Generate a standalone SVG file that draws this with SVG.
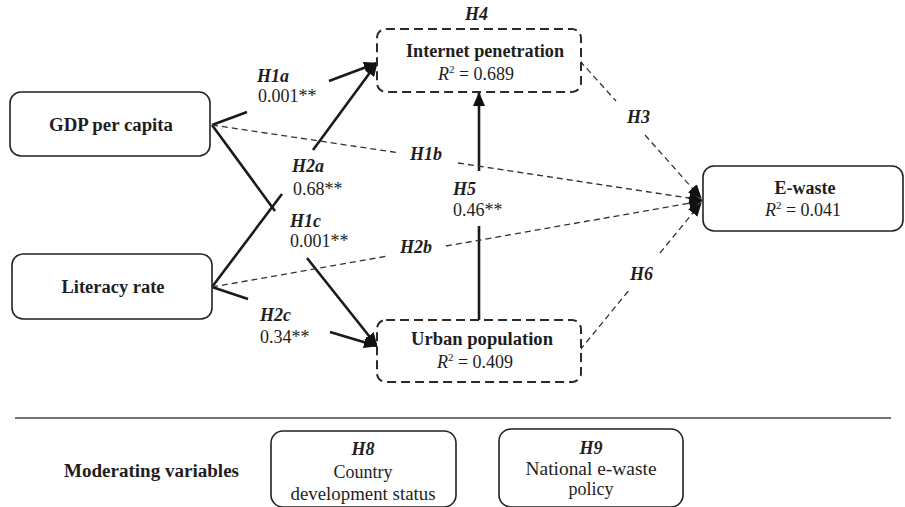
<svg xmlns="http://www.w3.org/2000/svg" width="905" height="507" viewBox="0 0 905 507">
<style>
text{font-family:"Liberation Serif","Times New Roman","Nimbus Roman","DejaVu Serif",serif;font-size:18px;fill:#1e1e1e}
.b{font-weight:bold}
.bi{font-weight:bold;font-style:italic}
.c{text-anchor:middle}
.box{fill:#fff;stroke:#222;stroke-width:1.6}
.dbox{fill:#fff;stroke:#2a2a2a;stroke-width:2;stroke-dasharray:9 5}
.sl{stroke:#1a1a1a;stroke-width:2.6;fill:none}
.dl{stroke:#333;stroke-width:1.3;fill:none;stroke-dasharray:6 4}
</style>
<defs>
<marker id="ah" markerUnits="userSpaceOnUse" markerWidth="14" markerHeight="12" refX="13" refY="6" orient="auto">
<path d="M0,0 L14,6 L0,12 Z" fill="#111"/>
</marker>
<marker id="ad" markerUnits="userSpaceOnUse" markerWidth="14" markerHeight="14" refX="13" refY="7" orient="auto">
<path d="M0,1 L14,7 L0,13 Z" fill="#111"/>
</marker>
</defs>

<g id="connectors">
<line class="sl" x1="212" y1="125" x2="247" y2="112"/>
<line class="sl" x1="329" y1="81" x2="377" y2="63" marker-end="url(#ah)"/>
<line class="sl" x1="212" y1="125" x2="275" y2="211"/>
<line class="sl" x1="307" y1="258" x2="377" y2="346" marker-end="url(#ah)"/>
<line class="sl" x1="212" y1="287" x2="282" y2="194"/>
<line class="sl" x1="313" y1="150" x2="377" y2="63" marker-end="url(#ah)"/>
<line class="sl" x1="212" y1="287" x2="248" y2="299"/>
<line class="sl" x1="330" y1="332" x2="377" y2="346" marker-end="url(#ah)"/>
<line class="sl" x1="479" y1="320" x2="479" y2="226"/>
<line class="sl" x1="479" y1="171" x2="479" y2="93" marker-end="url(#ah)"/>
<line class="dl" x1="212" y1="125" x2="400" y2="153"/>
<line class="dl" x1="458" y1="163" x2="702" y2="200" marker-end="url(#ad)"/>
<line class="dl" x1="212" y1="287" x2="388" y2="256"/>
<line class="dl" x1="446" y1="246" x2="702" y2="201" marker-end="url(#ad)"/>
<line class="dl" x1="580" y1="61" x2="616" y2="101"/>
<line class="dl" x1="645" y1="135" x2="701" y2="198" marker-end="url(#ad)"/>
<line class="dl" x1="580" y1="350" x2="630" y2="289"/>
<line class="dl" x1="660" y1="253" x2="701" y2="203" marker-end="url(#ad)"/>
</g>

<g id="gdp">
<rect class="box" x="10" y="92" width="200" height="64" rx="11"/>
<text class="b c" x="111" y="131" textLength="124" lengthAdjust="spacingAndGlyphs">GDP per capita</text>
</g>
<g id="literacy">
<rect class="box" x="12" y="254" width="200" height="65" rx="11"/>
<text class="b c" x="113" y="293" textLength="103" lengthAdjust="spacingAndGlyphs">Literacy rate</text>
</g>
<g id="internet">
<rect class="dbox" x="377" y="29" width="204" height="63" rx="9"/>
<text class="b c" x="485" y="57" textLength="158" lengthAdjust="spacingAndGlyphs">Internet penetration</text>
<text class="c" x="476" y="80"><tspan font-style="italic">R</tspan><tspan font-size="11" dy="-7">2</tspan><tspan dy="7"> = 0.689</tspan></text>
</g>
<g id="urban">
<rect class="dbox" x="377" y="320" width="204" height="62" rx="9"/>
<text class="b c" x="482" y="345" textLength="142" lengthAdjust="spacingAndGlyphs">Urban population</text>
<text class="c" x="475" y="368"><tspan font-style="italic">R</tspan><tspan font-size="11" dy="-7">2</tspan><tspan dy="7"> = 0.409</tspan></text>
</g>
<g id="ewaste">
<rect class="box" x="703" y="166" width="200" height="65" rx="11"/>
<text class="b c" x="805" y="194">E-waste</text>
<text class="c" x="803" y="216"><tspan font-style="italic">R</tspan><tspan font-size="11" dy="-7">2</tspan><tspan dy="7"> = 0.041</tspan></text>
</g>

<g id="labels">
<text class="bi" x="465" y="20">H4</text>
<text class="bi" x="257" y="82">H1a</text>
<text x="258" y="102">0.001**</text>
<text class="bi" x="292" y="172">H2a</text>
<text x="293" y="195">0.68**</text>
<text class="bi" x="290" y="227">H1c</text>
<text x="290" y="247">0.001**</text>
<text class="bi" x="410" y="160">H1b</text>
<text class="bi" x="400" y="253">H2b</text>
<text class="bi" x="453" y="195">H5</text>
<text x="453" y="216">0.46**</text>
<text class="bi" x="627" y="123">H3</text>
<text class="bi" x="630" y="280">H6</text>
<text class="bi" x="260" y="321">H2c</text>
<text x="260" y="343">0.34**</text>
</g>

<line x1="15" y1="418" x2="891" y2="418" stroke="#444" stroke-width="1.3"/>
<text class="b" x="64" y="477" textLength="175" lengthAdjust="spacingAndGlyphs">Moderating variables</text>
<g id="h8">
<rect class="box" x="271" y="431" width="185" height="76" rx="12"/>
<text class="bi c" x="363" y="455">H8</text>
<text class="c" x="363" y="478">Country</text>
<text class="c" x="363" y="500" textLength="145" lengthAdjust="spacingAndGlyphs">development status</text>
</g>
<g id="h9">
<rect class="box" x="499" y="429" width="184" height="78" rx="12"/>
<text class="bi c" x="591" y="454">H9</text>
<text class="c" x="591" y="475" textLength="131" lengthAdjust="spacingAndGlyphs">National e-waste</text>
<text class="c" x="591" y="495">policy</text>
</g>
</svg>
